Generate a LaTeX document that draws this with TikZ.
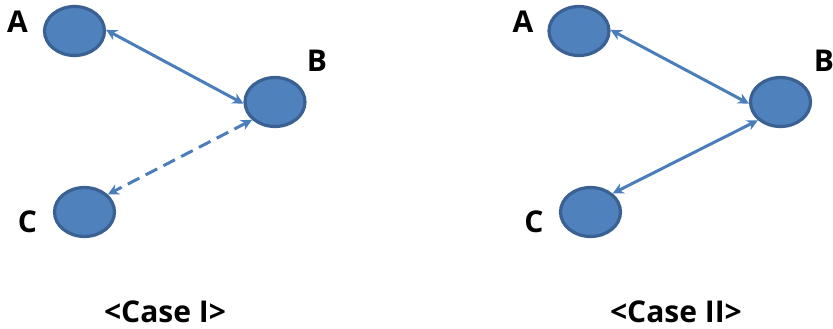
\documentclass[tikz,border=0pt]{standalone}
\usepackage{fontspec}
\setmainfont{Open Sans}
\usetikzlibrary{shapes.geometric,arrows.meta}
\definecolor{nodefill}{HTML}{4F81BD}
\definecolor{nodeline}{HTML}{3A6192}
\definecolor{arrowc}{HTML}{4A7EBB}
\tikzset{
  peer/.style={ellipse,draw=nodeline,fill=nodefill,line width=3.2pt,minimum width=60pt,minimum height=49pt,inner sep=0pt},
  lbl/.style={anchor=base,inner sep=0pt,font=\fontsize{30}{32}\selectfont\bfseries},
  captxt/.style={anchor=base,inner sep=0pt,font=\fontsize{30}{34}\selectfont\bfseries},
  link/.style={draw=arrowc,line width=3pt,{Stealth[length=11pt,width=11pt]}-{Stealth[length=11pt,width=11pt]}},
  dlink/.style={link,dash pattern=on 13pt off 7pt}
}
\begin{document}
\begin{tikzpicture}[x=1pt,y=-1pt]
\useasboundingbox (0,0) rectangle (833,329);
% Case I
\node[peer] (A1) at (74.5,31) {};
\node[peer] (B1) at (275,102) {};
\node[peer] (C1) at (84.5,212) {};
\node[lbl] (la1) at (17.5,33) {A};
\node[lbl] (lb1) at (317,72) {B};
\node[lbl] (lc1) at (27.5,232) {C};
\draw[link] (A1.2) -- (B1.183);
\draw[dlink] (B1.218) -- (C1.37);
\node[captxt] (cap1) at (165,322) {<Case I>};
% Case II
\node[peer] (A2) at (579,31) {};
\node[peer] (B2) at (780.5,102) {};
\node[peer] (C2) at (590.5,212) {};
\node[lbl] (la2) at (523,33) {A};
\node[lbl] (lb2) at (824,72) {B};
\node[lbl] (lc2) at (534,232) {C};
\draw[link] (A2.2) -- (B2.183);
\draw[link] (B2.219) -- (C2.40);
\node[captxt] (cap2) at (676,322) {<Case II>};
\end{tikzpicture}
\end{document}
